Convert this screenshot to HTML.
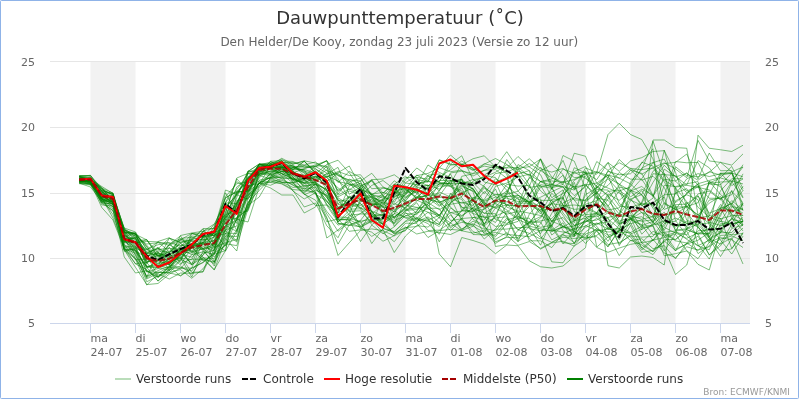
<!DOCTYPE html>
<html lang="nl">
<head>
<meta charset="utf-8">
<title>Dauwpunttemperatuur - Den Helder/De Kooy</title>
<style>html,body{margin:0;padding:0;background:#fff;width:800px;height:400px;overflow:hidden}</style>
</head>
<body>
<svg width="800" height="400" viewBox="0 0 800 400" style="display:block;will-change:transform;font-family:'DejaVu Sans','Liberation Sans',sans-serif">
<rect x="0" y="0" width="800" height="400" fill="#ffffff"/>
<rect x="0.5" y="0.5" width="798" height="398" rx="0.8" fill="none" stroke="#8fb3e8" stroke-width="1"/>
<rect x="90.5" y="61.5" width="45.0" height="262" fill="#f2f2f2"/>
<rect x="180.5" y="61.5" width="45.0" height="262" fill="#f2f2f2"/>
<rect x="270.5" y="61.5" width="45.0" height="262" fill="#f2f2f2"/>
<rect x="360.5" y="61.5" width="45.0" height="262" fill="#f2f2f2"/>
<rect x="450.5" y="61.5" width="45.0" height="262" fill="#f2f2f2"/>
<rect x="540.5" y="61.5" width="45.0" height="262" fill="#f2f2f2"/>
<rect x="630.5" y="61.5" width="45.0" height="262" fill="#f2f2f2"/>
<rect x="720.5" y="61.5" width="29.5" height="262" fill="#f2f2f2"/>
<path d="M 50 61.5 L 750 61.5" stroke="#e6e6e6" stroke-width="1" fill="none"/>
<path d="M 50 127.5 L 750 127.5" stroke="#e6e6e6" stroke-width="1" fill="none"/>
<path d="M 50 193.5 L 750 193.5" stroke="#e6e6e6" stroke-width="1" fill="none"/>
<path d="M 50 258.5 L 750 258.5" stroke="#e6e6e6" stroke-width="1" fill="none"/>
<path d="M 50 323.5 L 750 323.5" stroke="#ccd6eb" stroke-width="1" fill="none"/>
<path d="M 90.5 323.5 L 90.5 333" stroke="#ccd6eb" stroke-width="1" fill="none"/>
<path d="M 135.5 323.5 L 135.5 333" stroke="#ccd6eb" stroke-width="1" fill="none"/>
<path d="M 180.5 323.5 L 180.5 333" stroke="#ccd6eb" stroke-width="1" fill="none"/>
<path d="M 225.5 323.5 L 225.5 333" stroke="#ccd6eb" stroke-width="1" fill="none"/>
<path d="M 270.5 323.5 L 270.5 333" stroke="#ccd6eb" stroke-width="1" fill="none"/>
<path d="M 315.5 323.5 L 315.5 333" stroke="#ccd6eb" stroke-width="1" fill="none"/>
<path d="M 360.5 323.5 L 360.5 333" stroke="#ccd6eb" stroke-width="1" fill="none"/>
<path d="M 405.5 323.5 L 405.5 333" stroke="#ccd6eb" stroke-width="1" fill="none"/>
<path d="M 450.5 323.5 L 450.5 333" stroke="#ccd6eb" stroke-width="1" fill="none"/>
<path d="M 495.5 323.5 L 495.5 333" stroke="#ccd6eb" stroke-width="1" fill="none"/>
<path d="M 540.5 323.5 L 540.5 333" stroke="#ccd6eb" stroke-width="1" fill="none"/>
<path d="M 585.5 323.5 L 585.5 333" stroke="#ccd6eb" stroke-width="1" fill="none"/>
<path d="M 630.5 323.5 L 630.5 333" stroke="#ccd6eb" stroke-width="1" fill="none"/>
<path d="M 675.5 323.5 L 675.5 333" stroke="#ccd6eb" stroke-width="1" fill="none"/>
<path d="M 720.5 323.5 L 720.5 333" stroke="#ccd6eb" stroke-width="1" fill="none"/>
<g fill="none" stroke="#008000" stroke-opacity="0.5" stroke-width="1" stroke-linejoin="round">
<path d="M 79.25 177.90 L 90.50 181.34 L 101.75 193.47 L 113.00 197.34 L 124.25 248.36 L 135.50 258.40 L 146.75 278.97 L 158.00 273.24 L 169.25 266.70 L 180.50 268.98 L 191.75 254.69 L 203.00 251.83 L 214.25 254.17 L 225.50 250.60 L 236.75 202.80 L 248.00 184.35 L 259.25 166.27 L 270.50 163.42 L 281.75 159.24 L 293.00 166.35 L 304.25 171.06 L 315.50 174.39 L 326.75 181.39 L 338.00 200.24 L 349.25 214.98 L 360.50 222.89 L 371.75 215.84 L 383.00 224.58 L 394.25 232.05 L 405.50 221.49 L 416.75 218.66 L 428.00 223.62 L 439.25 234.30 L 450.50 207.76 L 461.75 215.58 L 473.00 207.83 L 484.25 199.41 L 495.50 181.99 L 506.75 177.37 L 518.00 171.18 L 529.25 174.71 L 540.50 181.53 L 551.75 179.10 L 563.00 160.40 L 574.25 188.71 L 585.50 167.88 L 596.75 172.56 L 608.00 134.50 L 619.25 123.25 L 630.50 134.50 L 641.75 139.50 L 653.00 158.88 L 664.25 204.02 L 675.50 208.92 L 686.75 223.88 L 698.00 220.45 L 709.25 194.38 L 720.50 172.88 L 731.75 185.58 L 743.00 178.97"/>
<path d="M 79.25 176.90 L 90.50 179.90 L 101.75 197.83 L 113.00 204.87 L 124.25 236.28 L 135.50 242.02 L 146.75 261.53 L 158.00 261.84 L 169.25 264.87 L 180.50 248.55 L 191.75 251.39 L 203.00 237.19 L 214.25 235.17 L 225.50 229.94 L 236.75 226.07 L 248.00 185.32 L 259.25 183.92 L 270.50 165.97 L 281.75 162.58 L 293.00 162.46 L 304.25 164.95 L 315.50 162.00 L 326.75 170.72 L 338.00 174.38 L 349.25 182.23 L 360.50 177.91 L 371.75 194.78 L 383.00 211.26 L 394.25 192.09 L 405.50 192.19 L 416.75 180.95 L 428.00 185.63 L 439.25 182.85 L 450.50 183.59 L 461.75 163.76 L 473.00 169.92 L 484.25 166.11 L 495.50 168.17 L 506.75 167.93 L 518.00 167.39 L 529.25 176.32 L 540.50 159.15 L 551.75 184.36 L 563.00 187.00 L 574.25 200.05 L 585.50 214.74 L 596.75 213.48 L 608.00 235.25 L 619.25 231.22 L 630.50 217.70 L 641.75 230.05 L 653.00 140.00 L 664.25 140.00 L 675.50 147.50 L 686.75 148.25 L 698.00 215.02 L 709.25 203.14 L 720.50 196.31 L 731.75 214.42 L 743.00 219.85"/>
<path d="M 79.25 180.03 L 90.50 183.20 L 101.75 193.42 L 113.00 198.39 L 124.25 240.02 L 135.50 243.27 L 146.75 239.90 L 158.00 252.86 L 169.25 259.17 L 180.50 240.59 L 191.75 244.81 L 203.00 243.55 L 214.25 253.60 L 225.50 229.81 L 236.75 210.75 L 248.00 184.03 L 259.25 168.24 L 270.50 172.39 L 281.75 168.05 L 293.00 164.73 L 304.25 175.92 L 315.50 165.90 L 326.75 166.00 L 338.00 178.69 L 349.25 199.66 L 360.50 207.91 L 371.75 216.38 L 383.00 221.27 L 394.25 233.90 L 405.50 227.02 L 416.75 234.00 L 428.00 231.25 L 439.25 232.59 L 450.50 234.53 L 461.75 229.25 L 473.00 221.18 L 484.25 226.09 L 495.50 241.72 L 506.75 237.40 L 518.00 237.71 L 529.25 222.01 L 540.50 216.69 L 551.75 203.50 L 563.00 196.12 L 574.25 180.35 L 585.50 173.85 L 596.75 171.86 L 608.00 175.39 L 619.25 203.52 L 630.50 211.23 L 641.75 203.32 L 653.00 204.81 L 664.25 232.27 L 675.50 239.87 L 686.75 228.93 L 698.00 135.20 L 709.25 148.25 L 720.50 149.75 L 731.75 151.50 L 743.00 145.25"/>
<path d="M 79.25 182.11 L 90.50 180.32 L 101.75 195.67 L 113.00 201.98 L 124.25 233.01 L 135.50 232.40 L 146.75 261.29 L 158.00 260.69 L 169.25 238.15 L 180.50 242.59 L 191.75 239.31 L 203.00 228.96 L 214.25 243.64 L 225.50 216.33 L 236.75 191.52 L 248.00 182.48 L 259.25 164.20 L 270.50 167.34 L 281.75 167.20 L 293.00 169.71 L 304.25 161.20 L 315.50 172.21 L 326.75 189.83 L 338.00 209.17 L 349.25 204.38 L 360.50 208.12 L 371.75 199.50 L 383.00 213.35 L 394.25 223.43 L 405.50 200.09 L 416.75 187.96 L 428.00 197.85 L 439.25 254.00 L 450.50 266.75 L 461.75 237.50 L 473.00 240.50 L 484.25 244.25 L 495.50 253.70 L 506.75 245.00 L 518.00 245.75 L 529.25 260.75 L 540.50 266.75 L 551.75 268.00 L 563.00 266.00 L 574.25 256.50 L 585.50 247.75 L 596.75 184.93 L 608.00 174.84 L 619.25 184.08 L 630.50 191.12 L 641.75 178.57 L 653.00 162.66 L 664.25 159.10 L 675.50 181.10 L 686.75 172.72 L 698.00 185.12 L 709.25 218.62 L 720.50 208.13 L 731.75 227.75 L 743.00 217.33"/>
<path d="M 79.25 180.98 L 90.50 181.00 L 101.75 199.00 L 113.00 203.95 L 124.25 232.31 L 135.50 233.99 L 146.75 263.31 L 158.00 250.86 L 169.25 252.32 L 180.50 247.60 L 191.75 233.57 L 203.00 236.57 L 214.25 234.92 L 225.50 231.43 L 236.75 212.79 L 248.00 196.46 L 259.25 170.52 L 270.50 164.98 L 281.75 162.40 L 293.00 163.76 L 304.25 161.20 L 315.50 172.48 L 326.75 180.35 L 338.00 200.50 L 349.25 200.95 L 360.50 193.05 L 371.75 179.72 L 383.00 195.54 L 394.25 185.82 L 405.50 190.16 L 416.75 189.39 L 428.00 198.62 L 439.25 202.20 L 450.50 198.06 L 461.75 178.84 L 473.00 213.43 L 484.25 217.66 L 495.50 226.49 L 506.75 224.75 L 518.00 221.41 L 529.25 202.31 L 540.50 197.21 L 551.75 191.77 L 563.00 186.52 L 574.25 190.08 L 585.50 170.67 L 596.75 192.89 L 608.00 265.75 L 619.25 268.00 L 630.50 257.00 L 641.75 256.00 L 653.00 257.50 L 664.25 265.00 L 675.50 187.59 L 686.75 220.20 L 698.00 224.40 L 709.25 236.85 L 720.50 213.50 L 731.75 200.55 L 743.00 210.11"/>
<path d="M 79.25 181.68 L 90.50 181.84 L 101.75 196.06 L 113.00 202.46 L 124.25 232.56 L 135.50 233.50 L 146.75 248.98 L 158.00 255.19 L 169.25 264.57 L 180.50 248.66 L 191.75 244.95 L 203.00 248.70 L 214.25 266.04 L 225.50 233.12 L 236.75 242.02 L 248.00 191.63 L 259.25 183.31 L 270.50 188.00 L 281.75 195.00 L 293.00 195.00 L 304.25 213.00 L 315.50 207.00 L 326.75 185.81 L 338.00 204.55 L 349.25 205.37 L 360.50 226.88 L 371.75 236.39 L 383.00 229.44 L 394.25 252.50 L 405.50 236.00 L 416.75 225.54 L 428.00 227.12 L 439.25 217.48 L 450.50 230.68 L 461.75 218.77 L 473.00 234.54 L 484.25 234.87 L 495.50 234.98 L 506.75 219.94 L 518.00 216.57 L 529.25 221.70 L 540.50 220.93 L 551.75 218.59 L 563.00 205.75 L 574.25 205.00 L 585.50 206.25 L 596.75 212.69 L 608.00 194.00 L 619.25 200.32 L 630.50 190.34 L 641.75 194.67 L 653.00 216.51 L 664.25 185.24 L 675.50 186.59 L 686.75 183.80 L 698.00 181.56 L 709.25 215.32 L 720.50 218.80 L 731.75 215.78 L 743.00 225.82"/>
<path d="M 79.25 180.15 L 90.50 179.75 L 101.75 191.30 L 113.00 201.63 L 124.25 242.91 L 135.50 241.51 L 146.75 263.71 L 158.00 252.56 L 169.25 257.50 L 180.50 257.56 L 191.75 245.75 L 203.00 245.06 L 214.25 240.27 L 225.50 208.06 L 236.75 194.13 L 248.00 179.05 L 259.25 166.28 L 270.50 165.61 L 281.75 158.25 L 293.00 164.21 L 304.25 160.80 L 315.50 163.12 L 326.75 167.67 L 338.00 182.59 L 349.25 171.41 L 360.50 177.58 L 371.75 196.22 L 383.00 195.84 L 394.25 202.33 L 405.50 182.69 L 416.75 175.61 L 428.00 173.41 L 439.25 167.69 L 450.50 171.68 L 461.75 170.23 L 473.00 176.06 L 484.25 170.19 L 495.50 169.55 L 506.75 178.23 L 518.00 207.59 L 529.25 194.61 L 540.50 181.38 L 551.75 180.95 L 563.00 182.37 L 574.25 171.61 L 585.50 166.40 L 596.75 188.43 L 608.00 171.42 L 619.25 174.76 L 630.50 173.76 L 641.75 163.30 L 653.00 148.76 L 664.25 248.30 L 675.50 274.50 L 686.75 265.00 L 698.00 226.28 L 709.25 242.68 L 720.50 218.07 L 731.75 248.49 L 743.00 232.41"/>
<path d="M 79.25 176.30 L 90.50 178.90 L 101.75 186.50 L 113.00 193.40 L 124.25 241.63 L 135.50 237.52 L 146.75 259.36 L 158.00 265.95 L 169.25 247.13 L 180.50 263.52 L 191.75 259.08 L 203.00 259.44 L 214.25 269.60 L 225.50 250.60 L 236.75 192.43 L 248.00 191.38 L 259.25 176.83 L 270.50 163.24 L 281.75 168.87 L 293.00 178.43 L 304.25 182.84 L 315.50 182.19 L 326.75 205.47 L 338.00 221.86 L 349.25 213.81 L 360.50 188.50 L 371.75 203.31 L 383.00 195.79 L 394.25 204.68 L 405.50 194.96 L 416.75 177.38 L 428.00 195.09 L 439.25 196.13 L 450.50 180.43 L 461.75 182.21 L 473.00 184.05 L 484.25 175.57 L 495.50 177.57 L 506.75 190.35 L 518.00 199.26 L 529.25 202.19 L 540.50 235.47 L 551.75 261.85 L 563.00 262.81 L 574.25 245.72 L 585.50 231.97 L 596.75 223.64 L 608.00 222.13 L 619.25 213.59 L 630.50 181.91 L 641.75 169.58 L 653.00 167.97 L 664.25 181.78 L 675.50 202.47 L 686.75 193.75 L 698.00 183.75 L 709.25 180.45 L 720.50 177.51 L 731.75 166.47 L 743.00 188.60"/>
<path d="M 79.25 181.60 L 90.50 179.18 L 101.75 190.37 L 113.00 194.52 L 124.25 235.06 L 135.50 242.76 L 146.75 241.41 L 158.00 241.90 L 169.25 245.42 L 180.50 239.77 L 191.75 233.40 L 203.00 234.02 L 214.25 247.14 L 225.50 226.48 L 236.75 197.62 L 248.00 171.51 L 259.25 163.80 L 270.50 163.57 L 281.75 167.31 L 293.00 165.99 L 304.25 171.47 L 315.50 180.70 L 326.75 176.67 L 338.00 195.14 L 349.25 189.04 L 360.50 192.72 L 371.75 204.77 L 383.00 198.92 L 394.25 197.71 L 405.50 189.17 L 416.75 174.99 L 428.00 181.70 L 439.25 181.73 L 450.50 164.85 L 461.75 164.13 L 473.00 168.03 L 484.25 175.25 L 495.50 166.91 L 506.75 171.88 L 518.00 190.94 L 529.25 203.39 L 540.50 181.45 L 551.75 185.25 L 563.00 169.04 L 574.25 173.18 L 585.50 172.07 L 596.75 198.10 L 608.00 200.23 L 619.25 214.09 L 630.50 216.99 L 641.75 242.95 L 653.00 240.47 L 664.25 223.64 L 675.50 218.04 L 686.75 223.26 L 698.00 225.67 L 709.25 181.31 L 720.50 186.66 L 731.75 206.42 L 743.00 209.01"/>
<path d="M 79.25 179.25 L 90.50 181.85 L 101.75 202.34 L 113.00 204.33 L 124.25 249.84 L 135.50 267.34 L 146.75 284.60 L 158.00 283.50 L 169.25 274.13 L 180.50 268.00 L 191.75 268.09 L 203.00 262.32 L 214.25 253.20 L 225.50 245.53 L 236.75 229.94 L 248.00 190.65 L 259.25 171.02 L 270.50 173.45 L 281.75 167.16 L 293.00 171.32 L 304.25 178.95 L 315.50 176.03 L 326.75 186.28 L 338.00 207.77 L 349.25 200.53 L 360.50 201.03 L 371.75 203.37 L 383.00 205.94 L 394.25 212.06 L 405.50 202.37 L 416.75 197.10 L 428.00 188.38 L 439.25 201.69 L 450.50 212.59 L 461.75 211.10 L 473.00 201.03 L 484.25 188.06 L 495.50 194.96 L 506.75 193.58 L 518.00 168.58 L 529.25 184.69 L 540.50 206.39 L 551.75 227.65 L 563.00 243.90 L 574.25 231.06 L 585.50 239.62 L 596.75 230.37 L 608.00 244.64 L 619.25 242.57 L 630.50 235.97 L 641.75 237.17 L 653.00 236.33 L 664.25 221.04 L 675.50 205.66 L 686.75 227.08 L 698.00 233.96 L 709.25 255.18 L 720.50 243.48 L 731.75 224.38 L 743.00 221.54"/>
<path d="M 79.25 175.90 L 90.50 177.06 L 101.75 188.58 L 113.00 200.34 L 124.25 231.41 L 135.50 242.55 L 146.75 249.44 L 158.00 244.73 L 169.25 242.93 L 180.50 256.13 L 191.75 244.69 L 203.00 238.33 L 214.25 231.81 L 225.50 192.84 L 236.75 212.97 L 248.00 211.16 L 259.25 180.13 L 270.50 177.80 L 281.75 177.31 L 293.00 172.95 L 304.25 176.38 L 315.50 168.99 L 326.75 177.51 L 338.00 187.77 L 349.25 197.80 L 360.50 189.64 L 371.75 194.54 L 383.00 198.07 L 394.25 192.26 L 405.50 188.09 L 416.75 192.83 L 428.00 187.44 L 439.25 184.31 L 450.50 180.49 L 461.75 179.49 L 473.00 188.65 L 484.25 204.88 L 495.50 188.90 L 506.75 215.98 L 518.00 229.77 L 529.25 233.31 L 540.50 239.09 L 551.75 224.56 L 563.00 197.62 L 574.25 220.82 L 585.50 218.29 L 596.75 228.71 L 608.00 234.99 L 619.25 255.61 L 630.50 240.27 L 641.75 244.86 L 653.00 251.85 L 664.25 240.96 L 675.50 250.51 L 686.75 243.57 L 698.00 236.08 L 709.25 254.64 L 720.50 245.89 L 731.75 228.54 L 743.00 224.99"/>
<path d="M 79.25 178.30 L 90.50 180.81 L 101.75 192.16 L 113.00 195.87 L 124.25 228.58 L 135.50 241.07 L 146.75 239.50 L 158.00 257.07 L 169.25 244.22 L 180.50 238.48 L 191.75 237.28 L 203.00 239.75 L 214.25 240.40 L 225.50 222.36 L 236.75 192.08 L 248.00 179.57 L 259.25 164.98 L 270.50 162.08 L 281.75 163.81 L 293.00 167.08 L 304.25 165.71 L 315.50 168.72 L 326.75 176.04 L 338.00 181.00 L 349.25 189.66 L 360.50 182.96 L 371.75 195.64 L 383.00 204.04 L 394.25 192.58 L 405.50 177.69 L 416.75 177.40 L 428.00 179.19 L 439.25 168.07 L 450.50 155.00 L 461.75 164.78 L 473.00 158.75 L 484.25 155.75 L 495.50 167.03 L 506.75 151.70 L 518.00 168.30 L 529.25 166.67 L 540.50 159.15 L 551.75 189.46 L 563.00 155.50 L 574.25 161.15 L 585.50 188.48 L 596.75 247.10 L 608.00 236.93 L 619.25 232.33 L 630.50 232.46 L 641.75 248.00 L 653.00 254.65 L 664.25 239.74 L 675.50 239.39 L 686.75 231.17 L 698.00 253.61 L 709.25 245.81 L 720.50 229.96 L 731.75 218.79 L 743.00 203.33"/>
<path d="M 79.25 177.04 L 90.50 180.54 L 101.75 193.89 L 113.00 204.02 L 124.25 234.34 L 135.50 242.14 L 146.75 262.95 L 158.00 249.44 L 169.25 248.35 L 180.50 249.50 L 191.75 264.55 L 203.00 235.73 L 214.25 262.31 L 225.50 225.74 L 236.75 220.30 L 248.00 197.16 L 259.25 177.89 L 270.50 167.87 L 281.75 167.79 L 293.00 180.26 L 304.25 189.05 L 315.50 187.36 L 326.75 203.96 L 338.00 220.05 L 349.25 218.56 L 360.50 221.36 L 371.75 243.50 L 383.00 228.55 L 394.25 232.66 L 405.50 228.09 L 416.75 221.61 L 428.00 216.91 L 439.25 225.00 L 450.50 201.94 L 461.75 196.63 L 473.00 181.13 L 484.25 177.07 L 495.50 172.26 L 506.75 164.84 L 518.00 170.13 L 529.25 163.54 L 540.50 170.80 L 551.75 164.50 L 563.00 174.42 L 574.25 211.73 L 585.50 216.65 L 596.75 226.25 L 608.00 241.32 L 619.25 224.59 L 630.50 218.34 L 641.75 208.09 L 653.00 222.99 L 664.25 195.47 L 675.50 161.56 L 686.75 162.78 L 698.00 162.43 L 709.25 184.07 L 720.50 184.81 L 731.75 172.98 L 743.00 176.83"/>
<path d="M 79.25 181.08 L 90.50 182.21 L 101.75 200.79 L 113.00 208.95 L 124.25 257.00 L 135.50 273.00 L 146.75 270.73 L 158.00 277.16 L 169.25 267.48 L 180.50 254.26 L 191.75 257.23 L 203.00 246.58 L 214.25 250.73 L 225.50 219.11 L 236.75 186.91 L 248.00 178.85 L 259.25 164.20 L 270.50 168.47 L 281.75 175.95 L 293.00 191.09 L 304.25 198.95 L 315.50 192.79 L 326.75 213.93 L 338.00 231.25 L 349.25 222.46 L 360.50 227.20 L 371.75 221.49 L 383.00 223.59 L 394.25 210.71 L 405.50 218.09 L 416.75 221.36 L 428.00 212.26 L 439.25 222.67 L 450.50 212.52 L 461.75 216.26 L 473.00 207.99 L 484.25 213.21 L 495.50 206.43 L 506.75 196.35 L 518.00 195.14 L 529.25 201.88 L 540.50 207.01 L 551.75 231.79 L 563.00 226.58 L 574.25 233.33 L 585.50 234.04 L 596.75 229.76 L 608.00 231.97 L 619.25 231.77 L 630.50 236.90 L 641.75 252.36 L 653.00 250.33 L 664.25 241.93 L 675.50 231.30 L 686.75 239.39 L 698.00 245.93 L 709.25 249.77 L 720.50 223.66 L 731.75 223.53 L 743.00 203.81"/>
<path d="M 79.25 179.24 L 90.50 178.91 L 101.75 200.93 L 113.00 201.67 L 124.25 231.54 L 135.50 255.72 L 146.75 271.88 L 158.00 272.37 L 169.25 272.85 L 180.50 260.37 L 191.75 244.46 L 203.00 231.70 L 214.25 235.51 L 225.50 212.14 L 236.75 178.00 L 248.00 173.42 L 259.25 174.79 L 270.50 167.04 L 281.75 166.86 L 293.00 171.70 L 304.25 177.60 L 315.50 176.42 L 326.75 183.53 L 338.00 223.23 L 349.25 225.59 L 360.50 221.07 L 371.75 219.39 L 383.00 219.03 L 394.25 199.28 L 405.50 194.75 L 416.75 184.63 L 428.00 180.11 L 439.25 191.06 L 450.50 172.93 L 461.75 171.27 L 473.00 173.46 L 484.25 164.20 L 495.50 158.50 L 506.75 164.41 L 518.00 174.17 L 529.25 187.52 L 540.50 185.63 L 551.75 203.48 L 563.00 220.69 L 574.25 236.15 L 585.50 199.61 L 596.75 189.55 L 608.00 190.06 L 619.25 206.06 L 630.50 207.49 L 641.75 203.39 L 653.00 182.42 L 664.25 165.18 L 675.50 176.60 L 686.75 184.88 L 698.00 160.53 L 709.25 167.81 L 720.50 183.95 L 731.75 215.56 L 743.00 215.52"/>
<path d="M 79.25 176.45 L 90.50 178.16 L 101.75 197.22 L 113.00 202.12 L 124.25 239.66 L 135.50 243.53 L 146.75 258.12 L 158.00 247.66 L 169.25 256.09 L 180.50 264.97 L 191.75 247.40 L 203.00 257.19 L 214.25 270.00 L 225.50 239.61 L 236.75 219.51 L 248.00 171.40 L 259.25 164.20 L 270.50 165.77 L 281.75 163.32 L 293.00 166.00 L 304.25 173.17 L 315.50 187.62 L 326.75 200.39 L 338.00 215.43 L 349.25 207.54 L 360.50 203.62 L 371.75 216.33 L 383.00 215.80 L 394.25 220.31 L 405.50 215.93 L 416.75 211.81 L 428.00 193.52 L 439.25 177.17 L 450.50 169.79 L 461.75 160.93 L 473.00 168.91 L 484.25 182.07 L 495.50 184.87 L 506.75 159.55 L 518.00 174.65 L 529.25 200.00 L 540.50 207.28 L 551.75 221.14 L 563.00 217.52 L 574.25 229.85 L 585.50 190.99 L 596.75 171.81 L 608.00 177.62 L 619.25 184.34 L 630.50 196.95 L 641.75 189.14 L 653.00 195.16 L 664.25 220.66 L 675.50 226.99 L 686.75 221.22 L 698.00 227.31 L 709.25 240.84 L 720.50 225.82 L 731.75 223.70 L 743.00 221.63"/>
<path d="M 79.25 181.75 L 90.50 180.40 L 101.75 204.87 L 113.00 206.06 L 124.25 249.65 L 135.50 263.57 L 146.75 262.41 L 158.00 277.20 L 169.25 270.87 L 180.50 253.87 L 191.75 237.86 L 203.00 239.90 L 214.25 232.61 L 225.50 228.06 L 236.75 205.67 L 248.00 193.25 L 259.25 168.82 L 270.50 165.86 L 281.75 167.27 L 293.00 167.64 L 304.25 167.99 L 315.50 166.39 L 326.75 173.02 L 338.00 175.21 L 349.25 180.61 L 360.50 190.64 L 371.75 204.66 L 383.00 203.89 L 394.25 211.66 L 405.50 193.05 L 416.75 190.25 L 428.00 184.97 L 439.25 202.60 L 450.50 220.47 L 461.75 218.90 L 473.00 197.21 L 484.25 200.36 L 495.50 194.38 L 506.75 196.45 L 518.00 197.15 L 529.25 201.14 L 540.50 213.98 L 551.75 193.22 L 563.00 204.45 L 574.25 222.75 L 585.50 194.70 L 596.75 187.77 L 608.00 178.79 L 619.25 191.22 L 630.50 213.39 L 641.75 234.15 L 653.00 223.32 L 664.25 226.47 L 675.50 200.84 L 686.75 194.78 L 698.00 199.60 L 709.25 237.82 L 720.50 251.11 L 731.75 248.86 L 743.00 233.71"/>
<path d="M 79.25 181.97 L 90.50 178.45 L 101.75 192.22 L 113.00 199.61 L 124.25 232.08 L 135.50 234.04 L 146.75 246.80 L 158.00 265.94 L 169.25 261.12 L 180.50 258.03 L 191.75 259.81 L 203.00 236.51 L 214.25 233.39 L 225.50 202.25 L 236.75 181.68 L 248.00 188.09 L 259.25 174.25 L 270.50 171.39 L 281.75 169.54 L 293.00 177.01 L 304.25 186.36 L 315.50 184.51 L 326.75 196.35 L 338.00 222.09 L 349.25 210.23 L 360.50 228.75 L 371.75 232.16 L 383.00 241.25 L 394.25 235.68 L 405.50 223.18 L 416.75 223.39 L 428.00 237.50 L 439.25 230.64 L 450.50 229.35 L 461.75 230.38 L 473.00 226.22 L 484.25 208.01 L 495.50 186.34 L 506.75 183.08 L 518.00 176.99 L 529.25 174.19 L 540.50 190.83 L 551.75 200.13 L 563.00 198.70 L 574.25 167.70 L 585.50 173.03 L 596.75 179.63 L 608.00 162.56 L 619.25 171.30 L 630.50 160.95 L 641.75 157.65 L 653.00 151.51 L 664.25 150.66 L 675.50 172.19 L 686.75 206.61 L 698.00 202.72 L 709.25 183.34 L 720.50 182.00 L 731.75 181.61 L 743.00 166.98"/>
<path d="M 79.25 179.11 L 90.50 182.25 L 101.75 203.25 L 113.00 210.46 L 124.25 251.41 L 135.50 248.51 L 146.75 278.03 L 158.00 270.58 L 169.25 265.95 L 180.50 249.03 L 191.75 254.63 L 203.00 244.13 L 214.25 226.53 L 225.50 197.51 L 236.75 192.00 L 248.00 190.88 L 259.25 171.37 L 270.50 174.86 L 281.75 182.06 L 293.00 187.48 L 304.25 185.83 L 315.50 183.81 L 326.75 189.93 L 338.00 223.37 L 349.25 225.13 L 360.50 226.82 L 371.75 220.74 L 383.00 219.31 L 394.25 214.32 L 405.50 189.47 L 416.75 197.01 L 428.00 202.61 L 439.25 209.69 L 450.50 203.41 L 461.75 193.38 L 473.00 200.24 L 484.25 217.63 L 495.50 215.96 L 506.75 211.22 L 518.00 219.66 L 529.25 224.30 L 540.50 205.62 L 551.75 225.79 L 563.00 207.60 L 574.25 225.49 L 585.50 221.10 L 596.75 220.05 L 608.00 212.79 L 619.25 226.03 L 630.50 232.55 L 641.75 226.22 L 653.00 225.30 L 664.25 251.06 L 675.50 234.18 L 686.75 250.76 L 698.00 258.65 L 709.25 242.30 L 720.50 237.60 L 731.75 239.76 L 743.00 247.52"/>
<path d="M 79.25 183.16 L 90.50 185.09 L 101.75 203.04 L 113.00 203.72 L 124.25 244.52 L 135.50 251.92 L 146.75 266.46 L 158.00 265.62 L 169.25 259.20 L 180.50 253.17 L 191.75 246.75 L 203.00 230.96 L 214.25 228.10 L 225.50 198.09 L 236.75 191.18 L 248.00 192.10 L 259.25 173.88 L 270.50 173.98 L 281.75 178.76 L 293.00 185.43 L 304.25 189.05 L 315.50 180.81 L 326.75 183.74 L 338.00 199.18 L 349.25 211.30 L 360.50 210.78 L 371.75 222.64 L 383.00 199.51 L 394.25 186.32 L 405.50 201.95 L 416.75 200.06 L 428.00 205.43 L 439.25 215.29 L 450.50 199.81 L 461.75 186.42 L 473.00 190.95 L 484.25 202.95 L 495.50 208.05 L 506.75 214.17 L 518.00 211.44 L 529.25 240.80 L 540.50 240.80 L 551.75 247.58 L 563.00 233.51 L 574.25 228.58 L 585.50 226.18 L 596.75 218.32 L 608.00 226.65 L 619.25 239.57 L 630.50 221.86 L 641.75 201.94 L 653.00 173.76 L 664.25 174.66 L 675.50 175.57 L 686.75 191.07 L 698.00 186.03 L 709.25 198.25 L 720.50 198.25 L 731.75 194.72 L 743.00 173.84"/>
<path d="M 79.25 183.75 L 90.50 183.79 L 101.75 199.04 L 113.00 206.57 L 124.25 236.59 L 135.50 245.74 L 146.75 271.88 L 158.00 268.58 L 169.25 263.64 L 180.50 255.95 L 191.75 272.46 L 203.00 271.60 L 214.25 241.77 L 225.50 219.23 L 236.75 218.80 L 248.00 208.65 L 259.25 170.05 L 270.50 171.30 L 281.75 165.76 L 293.00 172.96 L 304.25 178.04 L 315.50 170.90 L 326.75 180.13 L 338.00 197.94 L 349.25 204.16 L 360.50 205.41 L 371.75 198.57 L 383.00 207.28 L 394.25 209.54 L 405.50 205.10 L 416.75 207.34 L 428.00 208.11 L 439.25 208.39 L 450.50 228.02 L 461.75 218.50 L 473.00 217.61 L 484.25 216.12 L 495.50 222.47 L 506.75 205.10 L 518.00 206.03 L 529.25 228.75 L 540.50 230.68 L 551.75 226.49 L 563.00 202.80 L 574.25 197.70 L 585.50 185.19 L 596.75 194.73 L 608.00 212.14 L 619.25 224.05 L 630.50 200.72 L 641.75 190.67 L 653.00 208.25 L 664.25 223.08 L 675.50 221.22 L 686.75 210.64 L 698.00 195.94 L 709.25 213.18 L 720.50 208.57 L 731.75 203.54 L 743.00 186.33"/>
<path d="M 79.25 180.08 L 90.50 184.47 L 101.75 197.73 L 113.00 218.02 L 124.25 247.05 L 135.50 264.00 L 146.75 269.51 L 158.00 280.97 L 169.25 272.27 L 180.50 269.63 L 191.75 278.25 L 203.00 268.78 L 214.25 253.92 L 225.50 233.10 L 236.75 233.49 L 248.00 202.94 L 259.25 182.98 L 270.50 176.81 L 281.75 168.55 L 293.00 173.80 L 304.25 177.58 L 315.50 184.18 L 326.75 201.70 L 338.00 213.19 L 349.25 185.81 L 360.50 181.11 L 371.75 173.25 L 383.00 186.92 L 394.25 191.29 L 405.50 197.94 L 416.75 191.27 L 428.00 192.73 L 439.25 183.95 L 450.50 185.91 L 461.75 190.97 L 473.00 203.67 L 484.25 228.33 L 495.50 230.95 L 506.75 218.15 L 518.00 229.82 L 529.25 222.54 L 540.50 222.13 L 551.75 239.86 L 563.00 234.17 L 574.25 242.75 L 585.50 234.55 L 596.75 247.50 L 608.00 252.32 L 619.25 248.06 L 630.50 244.33 L 641.75 242.55 L 653.00 231.38 L 664.25 236.12 L 675.50 232.34 L 686.75 234.94 L 698.00 221.14 L 709.25 181.35 L 720.50 194.45 L 731.75 204.34 L 743.00 190.46"/>
<path d="M 79.25 181.97 L 90.50 183.61 L 101.75 198.34 L 113.00 214.61 L 124.25 246.15 L 135.50 247.14 L 146.75 255.72 L 158.00 253.53 L 169.25 255.97 L 180.50 255.09 L 191.75 239.02 L 203.00 244.33 L 214.25 236.39 L 225.50 222.69 L 236.75 202.30 L 248.00 181.92 L 259.25 164.20 L 270.50 166.27 L 281.75 160.73 L 293.00 181.70 L 304.25 192.97 L 315.50 183.52 L 326.75 193.89 L 338.00 215.01 L 349.25 209.14 L 360.50 208.84 L 371.75 224.73 L 383.00 216.65 L 394.25 223.91 L 405.50 213.24 L 416.75 214.84 L 428.00 199.36 L 439.25 202.54 L 450.50 197.93 L 461.75 203.21 L 473.00 200.35 L 484.25 184.81 L 495.50 173.55 L 506.75 171.82 L 518.00 167.60 L 529.25 158.75 L 540.50 168.71 L 551.75 172.11 L 563.00 168.39 L 574.25 177.60 L 585.50 176.63 L 596.75 194.02 L 608.00 170.52 L 619.25 178.24 L 630.50 168.63 L 641.75 174.25 L 653.00 167.74 L 664.25 162.82 L 675.50 168.92 L 686.75 177.72 L 698.00 140.41 L 709.25 160.94 L 720.50 162.42 L 731.75 165.12 L 743.00 153.89"/>
<path d="M 79.25 178.64 L 90.50 183.00 L 101.75 198.38 L 113.00 203.18 L 124.25 242.51 L 135.50 234.91 L 146.75 254.44 L 158.00 259.65 L 169.25 259.22 L 180.50 250.18 L 191.75 264.93 L 203.00 255.17 L 214.25 243.11 L 225.50 230.59 L 236.75 240.98 L 248.00 206.18 L 259.25 175.39 L 270.50 178.83 L 281.75 177.08 L 293.00 179.18 L 304.25 178.93 L 315.50 189.70 L 326.75 195.34 L 338.00 220.03 L 349.25 219.63 L 360.50 225.44 L 371.75 219.61 L 383.00 232.76 L 394.25 241.71 L 405.50 227.61 L 416.75 226.52 L 428.00 217.77 L 439.25 241.78 L 450.50 222.91 L 461.75 231.05 L 473.00 217.35 L 484.25 220.20 L 495.50 200.90 L 506.75 204.37 L 518.00 213.04 L 529.25 226.08 L 540.50 228.83 L 551.75 231.05 L 563.00 226.87 L 574.25 220.63 L 585.50 172.60 L 596.75 174.13 L 608.00 162.50 L 619.25 187.83 L 630.50 210.83 L 641.75 227.95 L 653.00 226.22 L 664.25 255.82 L 675.50 253.65 L 686.75 250.93 L 698.00 264.30 L 709.25 270.00 L 720.50 230.81 L 731.75 234.92 L 743.00 233.45"/>
<path d="M 79.25 180.11 L 90.50 176.81 L 101.75 195.10 L 113.00 198.22 L 124.25 239.23 L 135.50 247.53 L 146.75 270.96 L 158.00 277.37 L 169.25 266.62 L 180.50 258.57 L 191.75 247.25 L 203.00 233.15 L 214.25 247.58 L 225.50 242.74 L 236.75 239.45 L 248.00 205.74 L 259.25 173.05 L 270.50 161.65 L 281.75 166.23 L 293.00 176.80 L 304.25 191.86 L 315.50 184.38 L 326.75 189.13 L 338.00 218.79 L 349.25 220.06 L 360.50 213.43 L 371.75 205.76 L 383.00 199.37 L 394.25 226.35 L 405.50 212.58 L 416.75 222.85 L 428.00 203.34 L 439.25 190.50 L 450.50 173.92 L 461.75 197.70 L 473.00 210.58 L 484.25 205.73 L 495.50 200.69 L 506.75 184.39 L 518.00 186.08 L 529.25 185.30 L 540.50 205.48 L 551.75 221.28 L 563.00 225.85 L 574.25 230.78 L 585.50 219.47 L 596.75 213.38 L 608.00 196.07 L 619.25 187.22 L 630.50 189.23 L 641.75 204.84 L 653.00 202.98 L 664.25 194.80 L 675.50 194.01 L 686.75 178.88 L 698.00 173.60 L 709.25 176.56 L 720.50 173.74 L 731.75 172.29 L 743.00 197.38"/>
<path d="M 79.25 178.56 L 90.50 183.59 L 101.75 192.77 L 113.00 193.40 L 124.25 241.48 L 135.50 248.13 L 146.75 253.34 L 158.00 248.33 L 169.25 253.13 L 180.50 239.62 L 191.75 240.84 L 203.00 248.88 L 214.25 244.95 L 225.50 225.27 L 236.75 231.48 L 248.00 186.97 L 259.25 181.15 L 270.50 182.26 L 281.75 178.77 L 293.00 177.73 L 304.25 185.24 L 315.50 192.74 L 326.75 211.39 L 338.00 225.08 L 349.25 221.81 L 360.50 199.95 L 371.75 194.14 L 383.00 192.38 L 394.25 196.57 L 405.50 179.99 L 416.75 168.00 L 428.00 175.90 L 439.25 181.97 L 450.50 160.50 L 461.75 170.38 L 473.00 185.05 L 484.25 201.83 L 495.50 219.51 L 506.75 223.42 L 518.00 218.48 L 529.25 206.64 L 540.50 187.28 L 551.75 184.63 L 563.00 175.27 L 574.25 189.30 L 585.50 184.10 L 596.75 198.91 L 608.00 207.17 L 619.25 224.27 L 630.50 218.99 L 641.75 212.29 L 653.00 217.36 L 664.25 207.89 L 675.50 166.71 L 686.75 175.79 L 698.00 176.81 L 709.25 172.35 L 720.50 162.28 L 731.75 171.83 L 743.00 166.95"/>
<path d="M 79.25 183.06 L 90.50 182.83 L 101.75 207.50 L 113.00 220.00 L 124.25 248.97 L 135.50 253.05 L 146.75 276.66 L 158.00 265.96 L 169.25 267.97 L 180.50 252.78 L 191.75 263.46 L 203.00 253.20 L 214.25 250.13 L 225.50 206.43 L 236.75 195.52 L 248.00 171.00 L 259.25 171.49 L 270.50 164.70 L 281.75 164.49 L 293.00 169.73 L 304.25 169.45 L 315.50 173.07 L 326.75 181.59 L 338.00 173.11 L 349.25 184.38 L 360.50 189.32 L 371.75 193.28 L 383.00 207.37 L 394.25 184.38 L 405.50 192.53 L 416.75 179.53 L 428.00 181.94 L 439.25 160.15 L 450.50 164.73 L 461.75 164.67 L 473.00 170.44 L 484.25 163.83 L 495.50 166.26 L 506.75 168.01 L 518.00 156.50 L 529.25 166.89 L 540.50 174.68 L 551.75 197.76 L 563.00 189.87 L 574.25 220.70 L 585.50 213.15 L 596.75 202.02 L 608.00 229.40 L 619.25 228.39 L 630.50 234.09 L 641.75 229.34 L 653.00 224.90 L 664.25 214.42 L 675.50 213.67 L 686.75 206.88 L 698.00 215.08 L 709.25 237.39 L 720.50 221.16 L 731.75 223.77 L 743.00 221.27"/>
<path d="M 79.25 180.45 L 90.50 181.51 L 101.75 199.29 L 113.00 199.13 L 124.25 249.57 L 135.50 259.05 L 146.75 285.00 L 158.00 273.81 L 169.25 279.00 L 180.50 273.06 L 191.75 273.27 L 203.00 272.00 L 214.25 249.18 L 225.50 236.80 L 236.75 219.55 L 248.00 178.12 L 259.25 164.20 L 270.50 164.83 L 281.75 160.82 L 293.00 175.66 L 304.25 183.03 L 315.50 192.93 L 326.75 217.43 L 338.00 255.50 L 349.25 242.75 L 360.50 230.56 L 371.75 228.91 L 383.00 230.68 L 394.25 235.83 L 405.50 230.17 L 416.75 217.60 L 428.00 221.56 L 439.25 224.06 L 450.50 204.32 L 461.75 202.37 L 473.00 205.40 L 484.25 191.52 L 495.50 202.60 L 506.75 197.97 L 518.00 201.56 L 529.25 201.70 L 540.50 198.85 L 551.75 230.13 L 563.00 232.01 L 574.25 234.64 L 585.50 220.75 L 596.75 224.78 L 608.00 217.41 L 619.25 245.62 L 630.50 225.26 L 641.75 248.05 L 653.00 239.28 L 664.25 253.08 L 675.50 257.55 L 686.75 246.78 L 698.00 250.05 L 709.25 246.71 L 720.50 239.03 L 731.75 236.02 L 743.00 240.68"/>
<path d="M 79.25 180.29 L 90.50 179.51 L 101.75 200.03 L 113.00 206.97 L 124.25 247.03 L 135.50 250.05 L 146.75 266.75 L 158.00 263.84 L 169.25 260.72 L 180.50 253.23 L 191.75 236.03 L 203.00 237.46 L 214.25 229.71 L 225.50 215.18 L 236.75 208.91 L 248.00 171.40 L 259.25 173.14 L 270.50 161.25 L 281.75 160.75 L 293.00 161.50 L 304.25 167.23 L 315.50 166.99 L 326.75 160.50 L 338.00 175.75 L 349.25 179.97 L 360.50 180.84 L 371.75 213.56 L 383.00 224.96 L 394.25 213.44 L 405.50 217.26 L 416.75 218.98 L 428.00 205.98 L 439.25 197.26 L 450.50 197.60 L 461.75 188.07 L 473.00 208.95 L 484.25 223.99 L 495.50 207.92 L 506.75 204.87 L 518.00 205.72 L 529.25 205.07 L 540.50 184.72 L 551.75 186.30 L 563.00 213.02 L 574.25 225.78 L 585.50 216.11 L 596.75 216.90 L 608.00 211.36 L 619.25 215.01 L 630.50 184.73 L 641.75 162.26 L 653.00 166.08 L 664.25 180.20 L 675.50 187.16 L 686.75 185.32 L 698.00 187.35 L 709.25 189.95 L 720.50 198.98 L 731.75 191.43 L 743.00 202.49"/>
<path d="M 79.25 178.54 L 90.50 182.14 L 101.75 187.28 L 113.00 201.33 L 124.25 231.33 L 135.50 234.36 L 146.75 239.90 L 158.00 255.94 L 169.25 251.44 L 180.50 238.95 L 191.75 244.34 L 203.00 242.66 L 214.25 232.91 L 225.50 246.07 L 236.75 219.04 L 248.00 222.00 L 259.25 187.02 L 270.50 180.96 L 281.75 183.99 L 293.00 190.36 L 304.25 207.01 L 315.50 202.94 L 326.75 225.71 L 338.00 237.71 L 349.25 215.26 L 360.50 213.97 L 371.75 213.98 L 383.00 204.75 L 394.25 189.61 L 405.50 201.00 L 416.75 187.46 L 428.00 188.54 L 439.25 180.65 L 450.50 180.13 L 461.75 210.42 L 473.00 211.35 L 484.25 201.33 L 495.50 197.11 L 506.75 196.71 L 518.00 218.52 L 529.25 238.40 L 540.50 249.11 L 551.75 242.94 L 563.00 241.19 L 574.25 246.10 L 585.50 238.46 L 596.75 235.34 L 608.00 227.57 L 619.25 234.86 L 630.50 219.30 L 641.75 225.48 L 653.00 221.48 L 664.25 236.16 L 675.50 250.97 L 686.75 228.97 L 698.00 217.75 L 709.25 216.10 L 720.50 190.75 L 731.75 178.72 L 743.00 178.64"/>
<path d="M 79.25 183.18 L 90.50 187.00 L 101.75 201.57 L 113.00 197.74 L 124.25 248.95 L 135.50 250.57 L 146.75 268.18 L 158.00 260.36 L 169.25 264.35 L 180.50 255.04 L 191.75 239.61 L 203.00 248.48 L 214.25 247.66 L 225.50 202.72 L 236.75 223.43 L 248.00 172.72 L 259.25 167.77 L 270.50 168.61 L 281.75 165.86 L 293.00 168.48 L 304.25 169.87 L 315.50 186.22 L 326.75 197.56 L 338.00 212.87 L 349.25 207.29 L 360.50 196.35 L 371.75 185.42 L 383.00 180.51 L 394.25 189.08 L 405.50 196.75 L 416.75 190.82 L 428.00 208.60 L 439.25 215.02 L 450.50 222.89 L 461.75 210.25 L 473.00 197.61 L 484.25 225.95 L 495.50 216.63 L 506.75 191.08 L 518.00 174.17 L 529.25 170.56 L 540.50 181.57 L 551.75 187.53 L 563.00 181.50 L 574.25 186.98 L 585.50 185.03 L 596.75 183.04 L 608.00 174.98 L 619.25 178.14 L 630.50 183.90 L 641.75 194.95 L 653.00 206.53 L 664.25 196.85 L 675.50 230.98 L 686.75 229.65 L 698.00 233.94 L 709.25 233.67 L 720.50 215.86 L 731.75 190.43 L 743.00 221.88"/>
<path d="M 79.25 179.97 L 90.50 180.44 L 101.75 197.45 L 113.00 195.35 L 124.25 238.88 L 135.50 258.29 L 146.75 276.25 L 158.00 272.08 L 169.25 272.87 L 180.50 275.60 L 191.75 267.98 L 203.00 241.44 L 214.25 233.16 L 225.50 216.82 L 236.75 205.49 L 248.00 176.94 L 259.25 174.45 L 270.50 163.91 L 281.75 165.61 L 293.00 182.76 L 304.25 194.58 L 315.50 190.32 L 326.75 195.20 L 338.00 207.10 L 349.25 201.44 L 360.50 196.45 L 371.75 214.90 L 383.00 214.45 L 394.25 216.86 L 405.50 207.74 L 416.75 219.95 L 428.00 220.26 L 439.25 226.60 L 450.50 214.79 L 461.75 229.06 L 473.00 223.73 L 484.25 229.22 L 495.50 236.63 L 506.75 223.86 L 518.00 214.68 L 529.25 196.08 L 540.50 170.36 L 551.75 177.99 L 563.00 182.30 L 574.25 179.57 L 585.50 173.39 L 596.75 191.94 L 608.00 205.62 L 619.25 221.26 L 630.50 217.21 L 641.75 207.85 L 653.00 222.40 L 664.25 202.70 L 675.50 209.83 L 686.75 206.07 L 698.00 214.98 L 709.25 223.35 L 720.50 232.93 L 731.75 218.02 L 743.00 224.72"/>
<path d="M 79.25 181.63 L 90.50 184.41 L 101.75 199.56 L 113.00 201.32 L 124.25 229.85 L 135.50 251.29 L 146.75 257.20 L 158.00 263.55 L 169.25 254.00 L 180.50 261.28 L 191.75 233.40 L 203.00 236.99 L 214.25 224.40 L 225.50 214.79 L 236.75 204.99 L 248.00 188.40 L 259.25 164.71 L 270.50 167.71 L 281.75 173.73 L 293.00 178.83 L 304.25 183.61 L 315.50 182.47 L 326.75 197.36 L 338.00 209.42 L 349.25 201.70 L 360.50 186.38 L 371.75 179.68 L 383.00 179.00 L 394.25 174.75 L 405.50 183.02 L 416.75 184.56 L 428.00 165.00 L 439.25 172.38 L 450.50 177.52 L 461.75 183.70 L 473.00 179.53 L 484.25 186.53 L 495.50 203.95 L 506.75 215.44 L 518.00 239.40 L 529.25 225.99 L 540.50 218.14 L 551.75 199.62 L 563.00 193.55 L 574.25 185.99 L 585.50 210.03 L 596.75 196.36 L 608.00 210.01 L 619.25 207.85 L 630.50 190.87 L 641.75 205.75 L 653.00 198.17 L 664.25 150.09 L 675.50 192.54 L 686.75 207.24 L 698.00 244.64 L 709.25 259.07 L 720.50 235.40 L 731.75 234.83 L 743.00 224.64"/>
<path d="M 79.25 180.40 L 90.50 179.80 L 101.75 201.64 L 113.00 211.04 L 124.25 238.52 L 135.50 237.96 L 146.75 266.23 L 158.00 267.23 L 169.25 256.30 L 180.50 251.87 L 191.75 253.01 L 203.00 240.18 L 214.25 237.41 L 225.50 207.99 L 236.75 230.67 L 248.00 203.51 L 259.25 183.05 L 270.50 177.51 L 281.75 171.47 L 293.00 172.02 L 304.25 176.39 L 315.50 181.59 L 326.75 191.51 L 338.00 210.75 L 349.25 197.12 L 360.50 198.86 L 371.75 196.80 L 383.00 212.72 L 394.25 203.55 L 405.50 207.95 L 416.75 194.09 L 428.00 175.89 L 439.25 182.65 L 450.50 184.00 L 461.75 207.38 L 473.00 213.54 L 484.25 233.89 L 495.50 232.49 L 506.75 235.23 L 518.00 245.35 L 529.25 241.54 L 540.50 248.32 L 551.75 242.45 L 563.00 237.31 L 574.25 238.48 L 585.50 237.11 L 596.75 228.58 L 608.00 237.60 L 619.25 230.77 L 630.50 222.84 L 641.75 242.83 L 653.00 251.60 L 664.25 233.33 L 675.50 240.83 L 686.75 242.99 L 698.00 250.47 L 709.25 238.87 L 720.50 256.50 L 731.75 238.63 L 743.00 227.99"/>
<path d="M 79.25 176.95 L 90.50 179.89 L 101.75 188.67 L 113.00 195.50 L 124.25 228.00 L 135.50 232.00 L 146.75 249.49 L 158.00 258.48 L 169.25 244.55 L 180.50 235.90 L 191.75 252.46 L 203.00 242.49 L 214.25 249.50 L 225.50 214.08 L 236.75 194.57 L 248.00 199.36 L 259.25 182.97 L 270.50 174.18 L 281.75 171.71 L 293.00 167.62 L 304.25 165.93 L 315.50 166.28 L 326.75 160.90 L 338.00 194.13 L 349.25 178.97 L 360.50 183.96 L 371.75 194.71 L 383.00 187.93 L 394.25 190.62 L 405.50 203.90 L 416.75 213.28 L 428.00 201.61 L 439.25 183.33 L 450.50 183.88 L 461.75 183.18 L 473.00 188.90 L 484.25 205.03 L 495.50 207.23 L 506.75 201.66 L 518.00 195.17 L 529.25 202.76 L 540.50 209.95 L 551.75 203.61 L 563.00 205.53 L 574.25 229.68 L 585.50 204.30 L 596.75 200.65 L 608.00 177.09 L 619.25 159.49 L 630.50 169.99 L 641.75 180.21 L 653.00 176.26 L 664.25 187.51 L 675.50 209.88 L 686.75 193.26 L 698.00 186.82 L 709.25 183.04 L 720.50 177.98 L 731.75 181.01 L 743.00 183.90"/>
<path d="M 79.25 180.91 L 90.50 181.40 L 101.75 196.39 L 113.00 201.02 L 124.25 240.40 L 135.50 250.80 L 146.75 277.06 L 158.00 251.60 L 169.25 270.53 L 180.50 259.32 L 191.75 264.56 L 203.00 257.79 L 214.25 258.63 L 225.50 238.44 L 236.75 251.00 L 248.00 198.61 L 259.25 183.00 L 270.50 185.25 L 281.75 180.31 L 293.00 184.64 L 304.25 194.16 L 315.50 200.13 L 326.75 218.23 L 338.00 244.11 L 349.25 224.96 L 360.50 220.44 L 371.75 205.59 L 383.00 202.03 L 394.25 207.75 L 405.50 198.29 L 416.75 185.81 L 428.00 185.36 L 439.25 189.01 L 450.50 181.82 L 461.75 180.78 L 473.00 189.66 L 484.25 203.06 L 495.50 246.51 L 506.75 244.60 L 518.00 230.22 L 529.25 222.35 L 540.50 209.51 L 551.75 203.45 L 563.00 227.95 L 574.25 226.05 L 585.50 221.86 L 596.75 213.91 L 608.00 217.46 L 619.25 214.57 L 630.50 198.76 L 641.75 212.96 L 653.00 221.16 L 664.25 212.19 L 675.50 230.01 L 686.75 228.75 L 698.00 223.92 L 709.25 223.08 L 720.50 204.53 L 731.75 212.93 L 743.00 202.66"/>
<path d="M 79.25 179.34 L 90.50 180.51 L 101.75 189.59 L 113.00 194.55 L 124.25 229.96 L 135.50 233.81 L 146.75 258.90 L 158.00 241.50 L 169.25 237.75 L 180.50 249.38 L 191.75 246.28 L 203.00 261.10 L 214.25 254.38 L 225.50 218.89 L 236.75 202.99 L 248.00 194.66 L 259.25 167.14 L 270.50 174.77 L 281.75 171.25 L 293.00 179.61 L 304.25 182.16 L 315.50 179.14 L 326.75 165.89 L 338.00 203.77 L 349.25 196.64 L 360.50 208.19 L 371.75 211.14 L 383.00 215.87 L 394.25 218.00 L 405.50 206.87 L 416.75 197.62 L 428.00 195.78 L 439.25 185.89 L 450.50 186.13 L 461.75 182.33 L 473.00 182.52 L 484.25 193.74 L 495.50 178.74 L 506.75 186.62 L 518.00 194.90 L 529.25 204.90 L 540.50 211.21 L 551.75 207.44 L 563.00 230.77 L 574.25 236.53 L 585.50 227.39 L 596.75 222.96 L 608.00 228.96 L 619.25 216.69 L 630.50 215.53 L 641.75 219.28 L 653.00 216.59 L 664.25 233.65 L 675.50 249.26 L 686.75 244.07 L 698.00 240.25 L 709.25 232.41 L 720.50 208.78 L 731.75 182.54 L 743.00 164.68"/>
<path d="M 79.25 175.90 L 90.50 175.65 L 101.75 188.20 L 113.00 202.27 L 124.25 230.06 L 135.50 234.24 L 146.75 246.29 L 158.00 260.60 L 169.25 244.82 L 180.50 251.27 L 191.75 247.17 L 203.00 249.68 L 214.25 231.66 L 225.50 217.28 L 236.75 206.59 L 248.00 195.39 L 259.25 186.25 L 270.50 173.33 L 281.75 169.81 L 293.00 170.54 L 304.25 188.04 L 315.50 194.22 L 326.75 200.99 L 338.00 217.17 L 349.25 206.49 L 360.50 198.60 L 371.75 205.40 L 383.00 207.19 L 394.25 217.51 L 405.50 208.29 L 416.75 197.03 L 428.00 195.48 L 439.25 200.44 L 450.50 213.85 L 461.75 230.77 L 473.00 233.13 L 484.25 230.48 L 495.50 243.36 L 506.75 236.50 L 518.00 207.38 L 529.25 186.75 L 540.50 158.75 L 551.75 177.12 L 563.00 184.22 L 574.25 195.61 L 585.50 187.01 L 596.75 161.50 L 608.00 170.31 L 619.25 162.77 L 630.50 168.32 L 641.75 169.88 L 653.00 141.14 L 664.25 174.29 L 675.50 220.56 L 686.75 235.69 L 698.00 245.72 L 709.25 240.12 L 720.50 232.59 L 731.75 206.53 L 743.00 213.15"/>
<path d="M 79.25 182.58 L 90.50 179.18 L 101.75 194.61 L 113.00 198.86 L 124.25 239.97 L 135.50 238.29 L 146.75 253.77 L 158.00 247.37 L 169.25 265.03 L 180.50 267.56 L 191.75 271.06 L 203.00 255.04 L 214.25 236.14 L 225.50 233.73 L 236.75 217.30 L 248.00 209.66 L 259.25 173.14 L 270.50 176.08 L 281.75 170.87 L 293.00 173.86 L 304.25 179.34 L 315.50 171.52 L 326.75 184.37 L 338.00 196.88 L 349.25 190.96 L 360.50 194.53 L 371.75 196.83 L 383.00 215.15 L 394.25 196.34 L 405.50 193.21 L 416.75 183.69 L 428.00 181.74 L 439.25 159.75 L 450.50 163.92 L 461.75 155.75 L 473.00 179.63 L 484.25 177.61 L 495.50 181.89 L 506.75 207.18 L 518.00 210.83 L 529.25 213.16 L 540.50 215.51 L 551.75 221.59 L 563.00 207.40 L 574.25 182.32 L 585.50 215.46 L 596.75 200.82 L 608.00 191.43 L 619.25 190.12 L 630.50 199.01 L 641.75 194.59 L 653.00 171.24 L 664.25 163.56 L 675.50 162.40 L 686.75 154.03 L 698.00 178.96 L 709.25 153.06 L 720.50 170.72 L 731.75 170.61 L 743.00 210.71"/>
<path d="M 79.25 179.63 L 90.50 178.26 L 101.75 197.93 L 113.00 204.19 L 124.25 244.65 L 135.50 259.90 L 146.75 259.10 L 158.00 255.68 L 169.25 252.59 L 180.50 243.35 L 191.75 250.62 L 203.00 259.56 L 214.25 262.00 L 225.50 243.72 L 236.75 245.62 L 248.00 208.88 L 259.25 185.38 L 270.50 179.80 L 281.75 182.56 L 293.00 182.56 L 304.25 179.93 L 315.50 191.61 L 326.75 221.81 L 338.00 218.91 L 349.25 231.30 L 360.50 229.91 L 371.75 210.83 L 383.00 228.25 L 394.25 231.47 L 405.50 221.04 L 416.75 213.26 L 428.00 208.57 L 439.25 215.64 L 450.50 196.98 L 461.75 185.12 L 473.00 191.59 L 484.25 225.73 L 495.50 239.35 L 506.75 232.58 L 518.00 241.39 L 529.25 233.84 L 540.50 223.97 L 551.75 202.25 L 563.00 197.39 L 574.25 235.21 L 585.50 221.90 L 596.75 215.31 L 608.00 199.09 L 619.25 185.01 L 630.50 170.22 L 641.75 173.30 L 653.00 195.24 L 664.25 209.41 L 675.50 204.73 L 686.75 204.07 L 698.00 195.56 L 709.25 222.15 L 720.50 225.51 L 731.75 219.48 L 743.00 221.87"/>
<path d="M 79.25 176.90 L 90.50 179.21 L 101.75 195.34 L 113.00 202.65 L 124.25 238.61 L 135.50 254.78 L 146.75 281.73 L 158.00 276.14 L 169.25 269.94 L 180.50 250.01 L 191.75 247.31 L 203.00 242.69 L 214.25 244.95 L 225.50 216.61 L 236.75 218.51 L 248.00 195.17 L 259.25 183.49 L 270.50 177.63 L 281.75 175.81 L 293.00 167.49 L 304.25 172.42 L 315.50 181.10 L 326.75 173.45 L 338.00 190.23 L 349.25 182.36 L 360.50 196.40 L 371.75 211.68 L 383.00 223.42 L 394.25 216.90 L 405.50 209.61 L 416.75 207.75 L 428.00 212.18 L 439.25 215.84 L 450.50 226.07 L 461.75 222.32 L 473.00 224.36 L 484.25 239.03 L 495.50 228.98 L 506.75 212.46 L 518.00 202.97 L 529.25 203.38 L 540.50 210.99 L 551.75 235.01 L 563.00 226.30 L 574.25 231.70 L 585.50 237.77 L 596.75 236.61 L 608.00 246.59 L 619.25 230.27 L 630.50 191.09 L 641.75 186.44 L 653.00 196.47 L 664.25 169.08 L 675.50 176.89 L 686.75 173.55 L 698.00 180.24 L 709.25 171.69 L 720.50 175.19 L 731.75 173.23 L 743.00 205.87"/>
<path d="M 79.25 180.20 L 90.50 178.11 L 101.75 191.79 L 113.00 198.30 L 124.25 236.38 L 135.50 233.85 L 146.75 245.47 L 158.00 256.07 L 169.25 253.98 L 180.50 251.89 L 191.75 248.59 L 203.00 231.38 L 214.25 236.13 L 225.50 196.69 L 236.75 183.66 L 248.00 182.00 L 259.25 164.20 L 270.50 165.60 L 281.75 171.86 L 293.00 173.01 L 304.25 175.20 L 315.50 179.38 L 326.75 174.16 L 338.00 167.37 L 349.25 194.30 L 360.50 186.93 L 371.75 211.48 L 383.00 224.15 L 394.25 234.01 L 405.50 230.67 L 416.75 210.67 L 428.00 197.90 L 439.25 206.32 L 450.50 197.59 L 461.75 220.78 L 473.00 225.97 L 484.25 232.57 L 495.50 214.70 L 506.75 194.26 L 518.00 191.28 L 529.25 178.61 L 540.50 167.07 L 551.75 185.11 L 563.00 186.93 L 574.25 200.03 L 585.50 200.14 L 596.75 186.77 L 608.00 196.00 L 619.25 210.73 L 630.50 218.52 L 641.75 216.74 L 653.00 225.11 L 664.25 220.98 L 675.50 193.08 L 686.75 188.68 L 698.00 207.24 L 709.25 217.14 L 720.50 221.65 L 731.75 204.19 L 743.00 224.68"/>
<path d="M 79.25 180.99 L 90.50 180.70 L 101.75 201.11 L 113.00 201.36 L 124.25 241.32 L 135.50 236.84 L 146.75 243.99 L 158.00 242.77 L 169.25 242.65 L 180.50 246.04 L 191.75 241.49 L 203.00 250.49 L 214.25 243.15 L 225.50 251.00 L 236.75 231.61 L 248.00 202.47 L 259.25 190.48 L 270.50 178.48 L 281.75 182.19 L 293.00 183.02 L 304.25 177.52 L 315.50 182.61 L 326.75 189.87 L 338.00 216.88 L 349.25 217.71 L 360.50 201.77 L 371.75 196.79 L 383.00 202.65 L 394.25 190.67 L 405.50 188.18 L 416.75 198.77 L 428.00 194.36 L 439.25 193.91 L 450.50 207.10 L 461.75 218.30 L 473.00 231.67 L 484.25 235.51 L 495.50 229.25 L 506.75 229.05 L 518.00 227.69 L 529.25 227.19 L 540.50 245.19 L 551.75 220.97 L 563.00 207.83 L 574.25 197.92 L 585.50 200.93 L 596.75 192.36 L 608.00 185.40 L 619.25 172.53 L 630.50 179.13 L 641.75 179.26 L 653.00 196.06 L 664.25 179.17 L 675.50 181.03 L 686.75 192.79 L 698.00 184.03 L 709.25 224.95 L 720.50 240.19 L 731.75 254.00 L 743.00 236.11"/>
<path d="M 79.25 179.37 L 90.50 178.84 L 101.75 196.59 L 113.00 198.78 L 124.25 235.89 L 135.50 239.39 L 146.75 253.60 L 158.00 254.14 L 169.25 262.02 L 180.50 257.75 L 191.75 277.10 L 203.00 251.09 L 214.25 262.29 L 225.50 235.96 L 236.75 236.53 L 248.00 205.23 L 259.25 197.00 L 270.50 177.48 L 281.75 173.83 L 293.00 183.16 L 304.25 193.48 L 315.50 205.52 L 326.75 205.00 L 338.00 212.60 L 349.25 196.01 L 360.50 203.58 L 371.75 216.02 L 383.00 215.04 L 394.25 222.62 L 405.50 210.48 L 416.75 209.46 L 428.00 204.21 L 439.25 191.98 L 450.50 197.03 L 461.75 199.21 L 473.00 219.45 L 484.25 225.21 L 495.50 201.20 L 506.75 194.81 L 518.00 164.55 L 529.25 170.60 L 540.50 206.90 L 551.75 187.93 L 563.00 184.43 L 574.25 153.25 L 585.50 156.25 L 596.75 183.43 L 608.00 188.08 L 619.25 192.93 L 630.50 200.13 L 641.75 205.20 L 653.00 213.71 L 664.25 230.36 L 675.50 206.91 L 686.75 206.94 L 698.00 193.98 L 709.25 191.19 L 720.50 200.04 L 731.75 181.55 L 743.00 198.01"/>
<path d="M 79.25 176.43 L 90.50 175.25 L 101.75 190.70 L 113.00 202.36 L 124.25 228.40 L 135.50 236.88 L 146.75 252.66 L 158.00 255.60 L 169.25 257.15 L 180.50 235.50 L 191.75 233.00 L 203.00 231.28 L 214.25 224.00 L 225.50 202.51 L 236.75 189.62 L 248.00 173.65 L 259.25 175.73 L 270.50 170.82 L 281.75 173.47 L 293.00 175.07 L 304.25 180.79 L 315.50 176.86 L 326.75 176.84 L 338.00 171.54 L 349.25 175.53 L 360.50 174.75 L 371.75 188.72 L 383.00 187.74 L 394.25 191.42 L 405.50 210.53 L 416.75 201.10 L 428.00 193.73 L 439.25 205.25 L 450.50 194.79 L 461.75 183.98 L 473.00 199.82 L 484.25 186.50 L 495.50 196.46 L 506.75 205.29 L 518.00 197.71 L 529.25 226.73 L 540.50 237.43 L 551.75 242.31 L 563.00 235.66 L 574.25 236.36 L 585.50 201.98 L 596.75 192.85 L 608.00 206.20 L 619.25 190.96 L 630.50 186.86 L 641.75 168.06 L 653.00 162.42 L 664.25 174.44 L 675.50 207.02 L 686.75 229.69 L 698.00 234.15 L 709.25 228.06 L 720.50 206.86 L 731.75 211.41 L 743.00 209.36"/>
<path d="M 79.25 182.25 L 90.50 184.33 L 101.75 199.00 L 113.00 204.00 L 124.25 233.46 L 135.50 246.35 L 146.75 255.06 L 158.00 276.55 L 169.25 266.44 L 180.50 276.00 L 191.75 268.25 L 203.00 262.63 L 214.25 252.65 L 225.50 202.77 L 236.75 203.65 L 248.00 178.01 L 259.25 172.82 L 270.50 167.58 L 281.75 167.49 L 293.00 179.91 L 304.25 183.20 L 315.50 176.84 L 326.75 177.03 L 338.00 172.60 L 349.25 166.00 L 360.50 186.18 L 371.75 181.09 L 383.00 195.81 L 394.25 218.54 L 405.50 211.57 L 416.75 202.69 L 428.00 219.92 L 439.25 215.32 L 450.50 203.44 L 461.75 176.31 L 473.00 173.85 L 484.25 170.53 L 495.50 164.77 L 506.75 173.89 L 518.00 216.15 L 529.25 222.81 L 540.50 227.28 L 551.75 225.42 L 563.00 242.79 L 574.25 243.64 L 585.50 225.39 L 596.75 230.62 L 608.00 229.15 L 619.25 230.21 L 630.50 223.88 L 641.75 219.84 L 653.00 234.83 L 664.25 232.27 L 675.50 230.99 L 686.75 212.27 L 698.00 227.08 L 709.25 238.49 L 720.50 243.99 L 731.75 237.89 L 743.00 264.00"/>
<path d="M 79.25 177.01 L 90.50 179.11 L 101.75 188.20 L 113.00 193.00 L 124.25 233.24 L 135.50 235.77 L 146.75 252.20 L 158.00 248.77 L 169.25 238.15 L 180.50 242.43 L 191.75 240.65 L 203.00 228.50 L 214.25 228.74 L 225.50 190.00 L 236.75 194.29 L 248.00 177.16 L 259.25 167.80 L 270.50 164.89 L 281.75 160.84 L 293.00 170.06 L 304.25 161.20 L 315.50 173.83 L 326.75 164.45 L 338.00 160.20 L 349.25 172.76 L 360.50 189.16 L 371.75 180.20 L 383.00 193.06 L 394.25 184.26 L 405.50 186.17 L 416.75 193.08 L 428.00 207.96 L 439.25 218.05 L 450.50 193.20 L 461.75 207.29 L 473.00 208.56 L 484.25 223.49 L 495.50 218.02 L 506.75 216.78 L 518.00 241.70 L 529.25 214.42 L 540.50 200.36 L 551.75 200.40 L 563.00 215.22 L 574.25 231.32 L 585.50 243.44 L 596.75 231.16 L 608.00 246.85 L 619.25 228.82 L 630.50 240.77 L 641.75 238.71 L 653.00 248.68 L 664.25 245.58 L 675.50 258.86 L 686.75 243.09 L 698.00 230.81 L 709.25 229.98 L 720.50 173.16 L 731.75 173.45 L 743.00 190.71"/>
<path d="M 79.25 177.54 L 90.50 180.03 L 101.75 190.57 L 113.00 193.71 L 124.25 239.75 L 135.50 246.78 L 146.75 249.84 L 158.00 241.90 L 169.25 251.71 L 180.50 243.47 L 191.75 252.21 L 203.00 248.66 L 214.25 256.82 L 225.50 244.40 L 236.75 203.89 L 248.00 180.52 L 259.25 167.08 L 270.50 168.52 L 281.75 173.54 L 293.00 179.31 L 304.25 178.91 L 315.50 177.88 L 326.75 169.76 L 338.00 191.35 L 349.25 184.45 L 360.50 187.12 L 371.75 201.93 L 383.00 193.73 L 394.25 180.78 L 405.50 189.08 L 416.75 198.60 L 428.00 186.00 L 439.25 175.02 L 450.50 186.95 L 461.75 192.78 L 473.00 188.21 L 484.25 208.75 L 495.50 203.23 L 506.75 209.83 L 518.00 218.29 L 529.25 218.16 L 540.50 233.73 L 551.75 213.35 L 563.00 191.96 L 574.25 172.10 L 585.50 178.51 L 596.75 185.89 L 608.00 195.30 L 619.25 223.13 L 630.50 218.97 L 641.75 221.26 L 653.00 219.82 L 664.25 173.33 L 675.50 187.86 L 686.75 201.68 L 698.00 220.53 L 709.25 238.30 L 720.50 232.72 L 731.75 232.55 L 743.00 220.45"/>
<path d="M 79.25 181.02 L 90.50 182.29 L 101.75 196.53 L 113.00 202.40 L 124.25 250.21 L 135.50 248.67 L 146.75 267.35 L 158.00 281.17 L 169.25 268.86 L 180.50 245.35 L 191.75 246.88 L 203.00 242.16 L 214.25 241.42 L 225.50 212.82 L 236.75 178.82 L 248.00 191.00 L 259.25 165.86 L 270.50 169.00 L 281.75 167.30 L 293.00 172.82 L 304.25 168.77 L 315.50 164.82 L 326.75 160.90 L 338.00 181.62 L 349.25 183.96 L 360.50 185.43 L 371.75 198.01 L 383.00 200.89 L 394.25 184.36 L 405.50 176.25 L 416.75 186.89 L 428.00 175.15 L 439.25 173.92 L 450.50 184.04 L 461.75 179.01 L 473.00 200.78 L 484.25 213.49 L 495.50 213.74 L 506.75 234.40 L 518.00 235.47 L 529.25 236.73 L 540.50 230.71 L 551.75 230.32 L 563.00 222.79 L 574.25 243.79 L 585.50 218.02 L 596.75 212.45 L 608.00 218.92 L 619.25 228.68 L 630.50 219.46 L 641.75 224.64 L 653.00 240.71 L 664.25 227.38 L 675.50 232.97 L 686.75 238.32 L 698.00 232.79 L 709.25 234.12 L 720.50 210.04 L 731.75 202.97 L 743.00 215.81"/>
<path d="M 79.25 175.50 L 90.50 175.65 L 101.75 191.10 L 113.00 193.40 L 124.25 229.65 L 135.50 238.44 L 146.75 267.27 L 158.00 267.81 L 169.25 270.14 L 180.50 266.02 L 191.75 274.16 L 203.00 257.63 L 214.25 263.67 L 225.50 229.24 L 236.75 200.51 L 248.00 198.37 L 259.25 183.25 L 270.50 182.57 L 281.75 183.25 L 293.00 189.55 L 304.25 190.50 L 315.50 192.23 L 326.75 238.00 L 338.00 229.91 L 349.25 219.96 L 360.50 241.50 L 371.75 225.05 L 383.00 233.84 L 394.25 226.86 L 405.50 215.53 L 416.75 217.36 L 428.00 230.51 L 439.25 230.14 L 450.50 222.74 L 461.75 210.93 L 473.00 211.25 L 484.25 209.35 L 495.50 199.10 L 506.75 190.87 L 518.00 205.19 L 529.25 177.31 L 540.50 186.27 L 551.75 188.22 L 563.00 205.29 L 574.25 209.34 L 585.50 208.37 L 596.75 213.30 L 608.00 222.15 L 619.25 243.97 L 630.50 234.47 L 641.75 250.07 L 653.00 240.08 L 664.25 237.61 L 675.50 234.07 L 686.75 202.07 L 698.00 217.80 L 709.25 200.01 L 720.50 198.02 L 731.75 217.81 L 743.00 230.96"/>
</g>
<path d="M 79.25 179.50 L 90.50 178.75 L 101.75 195.50 L 113.00 197.00 L 124.25 239.25 L 135.50 242.25 L 146.75 256.00 L 158.00 260.00 L 169.25 254.25 L 180.50 249.00 L 191.75 244.50 L 203.00 234.75 L 214.25 231.75 L 225.50 204.00 L 236.75 213.00 L 248.00 180.75 L 259.25 168.00 L 270.50 166.80 L 281.75 163.00 L 293.00 173.50 L 304.25 178.50 L 315.50 173.00 L 326.75 182.50 L 338.00 217.50 L 349.25 201.00 L 360.50 189.00 L 371.75 218.50 L 383.00 218.00 L 394.25 193.00 L 405.50 168.00 L 416.75 182.25 L 428.00 190.50 L 439.25 176.25 L 450.50 178.25 L 461.75 183.50 L 473.00 185.00 L 484.25 179.00 L 495.50 164.75 L 506.75 170.75 L 518.00 177.50 L 529.25 195.50 L 540.50 202.50 L 551.75 211.00 L 563.00 208.00 L 574.25 216.00 L 585.50 206.00 L 596.75 205.00 L 608.00 223.75 L 619.25 237.25 L 630.50 207.00 L 641.75 208.75 L 653.00 202.50 L 664.25 220.00 L 675.50 225.00 L 686.75 225.00 L 698.00 221.00 L 709.25 229.50 L 720.50 228.75 L 731.75 222.50 L 743.00 243.00" fill="none" stroke="#000000" stroke-width="2" stroke-dasharray="6,2" stroke-linejoin="round"/>
<path d="M 79.25 179.50 L 90.50 178.75 L 101.75 195.50 L 113.00 197.00 L 124.25 239.25 L 135.50 242.25 L 146.75 256.50 L 158.00 267.00 L 169.25 262.50 L 180.50 253.50 L 191.75 244.50 L 203.00 234.00 L 214.25 231.75 L 225.50 206.00 L 236.75 214.00 L 248.00 180.75 L 259.25 168.00 L 270.50 166.80 L 281.75 162.30 L 293.00 173.25 L 304.25 176.70 L 315.50 172.20 L 326.75 180.75 L 338.00 216.75 L 349.25 205.50 L 360.50 193.50 L 371.75 220.00 L 383.00 227.75 L 394.25 185.70 L 405.50 187.20 L 416.75 189.75 L 428.00 194.70 L 439.25 163.50 L 450.50 159.50 L 461.75 166.25 L 473.00 164.75 L 484.25 176.00 L 495.50 183.50 L 506.75 178.70 L 518.00 172.70" fill="none" stroke="#ff0000" stroke-width="2" stroke-linejoin="round"/>
<path d="M 79.25 180.00 L 90.50 179.50 L 101.75 196.00 L 113.00 199.00 L 124.25 238.50 L 135.50 243.00 L 146.75 258.50 L 158.00 261.00 L 169.25 258.75 L 180.50 252.75 L 191.75 247.50 L 203.00 245.00 L 214.25 243.00 L 225.50 224.50 L 236.75 210.00 L 248.00 187.00 L 259.25 170.00 L 270.50 168.75 L 281.75 168.75 L 293.00 173.75 L 304.25 177.00 L 315.50 180.00 L 326.75 185.00 L 338.00 208.50 L 349.25 203.75 L 360.50 199.50 L 371.75 205.00 L 383.00 211.00 L 394.25 207.75 L 405.50 203.50 L 416.75 199.00 L 428.00 199.00 L 439.25 196.50 L 450.50 198.00 L 461.75 193.50 L 473.00 200.50 L 484.25 207.00 L 495.50 200.50 L 506.75 201.00 L 518.00 206.50 L 529.25 206.00 L 540.50 206.00 L 551.75 210.00 L 563.00 208.75 L 574.25 217.50 L 585.50 209.50 L 596.75 204.25 L 608.00 212.50 L 619.25 216.00 L 630.50 211.50 L 641.75 209.00 L 653.00 213.75 L 664.25 215.00 L 675.50 211.00 L 686.75 214.50 L 698.00 217.00 L 709.25 220.00 L 720.50 210.50 L 731.75 210.50 L 743.00 215.00" fill="none" stroke="#a50000" stroke-opacity="0.85" stroke-width="2" stroke-dasharray="6,2" stroke-linejoin="round"/>
<text x="400" y="24" text-anchor="middle" font-size="18" fill="#333333">Dauwpunttemperatuur (˚C)</text>
<text x="399.3" y="45.5" text-anchor="middle" font-size="12" fill="#666666">Den Helder/De Kooy, zondag 23 juli 2023 (Versie zo 12 uur)</text>
<text x="35" y="66" text-anchor="end" font-size="11" fill="#666666">25</text>
<text x="765" y="66" text-anchor="start" font-size="11" fill="#666666">25</text>
<text x="35" y="131" text-anchor="end" font-size="11" fill="#666666">20</text>
<text x="765" y="131" text-anchor="start" font-size="11" fill="#666666">20</text>
<text x="35" y="197" text-anchor="end" font-size="11" fill="#666666">15</text>
<text x="765" y="197" text-anchor="start" font-size="11" fill="#666666">15</text>
<text x="35" y="262" text-anchor="end" font-size="11" fill="#666666">10</text>
<text x="765" y="262" text-anchor="start" font-size="11" fill="#666666">10</text>
<text x="35" y="327" text-anchor="end" font-size="11" fill="#666666">5</text>
<text x="765" y="327" text-anchor="start" font-size="11" fill="#666666">5</text>
<text x="90.5" y="341.5" font-size="11" fill="#666666">ma</text>
<text x="90.5" y="355.5" font-size="11" fill="#666666">24-07</text>
<text x="135.5" y="341.5" font-size="11" fill="#666666">di</text>
<text x="135.5" y="355.5" font-size="11" fill="#666666">25-07</text>
<text x="180.5" y="341.5" font-size="11" fill="#666666">wo</text>
<text x="180.5" y="355.5" font-size="11" fill="#666666">26-07</text>
<text x="225.5" y="341.5" font-size="11" fill="#666666">do</text>
<text x="225.5" y="355.5" font-size="11" fill="#666666">27-07</text>
<text x="270.5" y="341.5" font-size="11" fill="#666666">vr</text>
<text x="270.5" y="355.5" font-size="11" fill="#666666">28-07</text>
<text x="315.5" y="341.5" font-size="11" fill="#666666">za</text>
<text x="315.5" y="355.5" font-size="11" fill="#666666">29-07</text>
<text x="360.5" y="341.5" font-size="11" fill="#666666">zo</text>
<text x="360.5" y="355.5" font-size="11" fill="#666666">30-07</text>
<text x="405.5" y="341.5" font-size="11" fill="#666666">ma</text>
<text x="405.5" y="355.5" font-size="11" fill="#666666">31-07</text>
<text x="450.5" y="341.5" font-size="11" fill="#666666">di</text>
<text x="450.5" y="355.5" font-size="11" fill="#666666">01-08</text>
<text x="495.5" y="341.5" font-size="11" fill="#666666">wo</text>
<text x="495.5" y="355.5" font-size="11" fill="#666666">02-08</text>
<text x="540.5" y="341.5" font-size="11" fill="#666666">do</text>
<text x="540.5" y="355.5" font-size="11" fill="#666666">03-08</text>
<text x="585.5" y="341.5" font-size="11" fill="#666666">vr</text>
<text x="585.5" y="355.5" font-size="11" fill="#666666">04-08</text>
<text x="630.5" y="341.5" font-size="11" fill="#666666">za</text>
<text x="630.5" y="355.5" font-size="11" fill="#666666">05-08</text>
<text x="675.5" y="341.5" font-size="11" fill="#666666">zo</text>
<text x="675.5" y="355.5" font-size="11" fill="#666666">06-08</text>
<text x="720.5" y="341.5" font-size="11" fill="#666666">ma</text>
<text x="720.5" y="355.5" font-size="11" fill="#666666">07-08</text>
<path d="M 115 379 L 131 379" stroke="#008000" stroke-width="2" fill="none" stroke-opacity="0.27"/>
<text x="136" y="383" font-size="12" fill="#333333">Verstoorde runs</text>
<path d="M 242 379 L 258 379" stroke="#000000" stroke-width="2" fill="none" stroke-dasharray="6,2"/>
<text x="263" y="383" font-size="12" fill="#333333">Controle</text>
<path d="M 324 379 L 340 379" stroke="#ff0000" stroke-width="2" fill="none"/>
<text x="345" y="383" font-size="12" fill="#333333">Hoge resolutie</text>
<path d="M 442 379 L 458 379" stroke="#a50000" stroke-width="2" fill="none" stroke-dasharray="6,2"/>
<text x="463" y="383" font-size="12" fill="#333333">Middelste (P50)</text>
<path d="M 567 379 L 583 379" stroke="#008000" stroke-width="2" fill="none"/>
<text x="588" y="383" font-size="12" fill="#333333">Verstoorde runs</text>
<text x="790" y="395" text-anchor="end" font-size="9" fill="#999999">Bron: ECMWF/KNMI</text>
</svg>
</body>
</html>
